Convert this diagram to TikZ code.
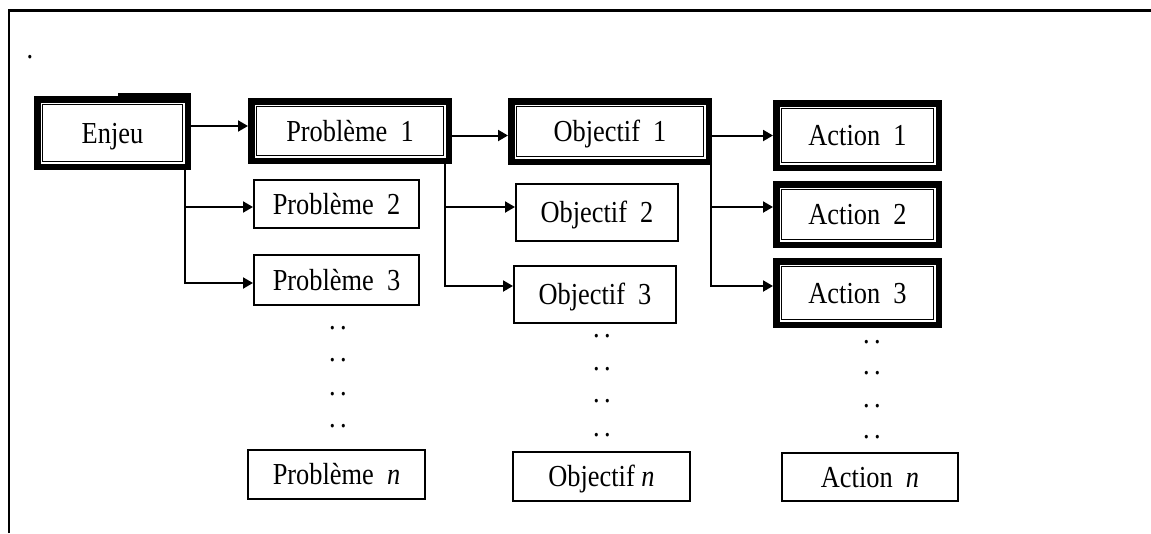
\documentclass[tikz,border=0pt]{standalone}
\usepackage{fontspec}
\setmainfont{Liberation Serif}[FakeStretch=0.865]
\usetikzlibrary{arrows.meta}
\tikzset{
  lbl/.style={font=\fontsize{30.5pt}{36pt}\selectfont, inner sep=0pt, text height=20pt, text depth=0pt},
  thickbox/.style={lbl, draw, line width=6.5pt, outer sep=3.25pt},
  thinbox/.style={lbl, draw, line width=1.6pt, outer sep=0.8pt},
  arr/.style={line width=2pt, -{Triangle[length=10pt,width=11pt]}},
  dotrow/.style={font=\fontsize{30.5pt}{36pt}\selectfont, inner sep=0pt, anchor=base}
}
\begin{document}
\begin{tikzpicture}[x=1pt,y=-1pt]
\useasboundingbox (0,0) rectangle (1151,533);
\fill[white] (0,0) rectangle (1151,533);
% frame
\draw[line width=2.5pt] (9,533) -- (9,10.7) -- (1151,10.7);
\node[dotrow] (dot0) at (30,58.5) {.};

% thick boxes (outer size minus line width)
\node[thickbox, minimum width=150.5pt, minimum height=67.5pt] (enjeu) at (112.5,133) {Enjeu};
\fill (118,93) rectangle (191,97);
\node[thickbox, minimum width=197.5pt, minimum height=59.5pt] (p1) at (350,131) {Problème~~1};
\node[thickbox, minimum width=197.5pt, minimum height=60.5pt] (o1) at (610,131.5) {Objectif~~1};
\node[thickbox, minimum width=162.5pt, minimum height=64.5pt] (a1) at (857.5,135.5) {Action~~1};
\node[thickbox, minimum width=162.5pt, minimum height=60.5pt] (a2) at (857.5,214.5) {Action~~2};
\node[thickbox, minimum width=162.5pt, minimum height=63.5pt] (a3) at (857.5,293) {Action~~3};
\foreach \n in {enjeu,p1,o1,a1,a2,a3}
  \draw[line width=1.5pt] ([shift={(8.5pt,8.5pt)}]\n.south west) rectangle ([shift={(-8.5pt,-8.5pt)}]\n.north east);

% thin boxes
\node[thinbox, minimum width=165.4pt, minimum height=48.4pt] (p2) at (336.5,204) {Problème~~2};
\node[thinbox, minimum width=165.4pt, minimum height=50.4pt] (p3) at (336.5,280) {Problème~~3};
\node[thinbox, minimum width=177.4pt, minimum height=49.4pt] (pn) at (336.5,474.5) {Problème~~\textit{n}};
\node[thinbox, minimum width=162.4pt, minimum height=57.4pt] (o2) at (597,212.5) {Objectif~~2};
\node[thinbox, minimum width=162.4pt, minimum height=57.4pt] (o3) at (595,294.5) {Objectif~~3};
\node[thinbox, minimum width=177.4pt, minimum height=49.4pt] (on) at (601.5,476.5) {Objectif \textit{n}};
\node[thinbox, minimum width=176.4pt, minimum height=48.4pt] (an) at (870,477) {Action~~\textit{n}};

% dots
\foreach \y [count=\i] in {328,360,394,426}
  \node[dotrow] (pd\i) at (338,\y+1.5) {.\hspace{4.5pt}.};
\foreach \y [count=\i] in {336,369,401,435}
  \node[dotrow] (od\i) at (602,\y+1.5) {.\hspace{4.5pt}.};
\foreach \y [count=\i] in {342,373,406,437}
  \node[dotrow] (ad\i) at (872,\y+1.5) {.\hspace{4.5pt}.};

% helper coordinates
\coordinate (ex) at (185,0);
\coordinate (px) at (445,0);
\coordinate (ox) at (711,0);
\coordinate (r1) at (0,126);
\coordinate (r2) at (0,135.5);
\coordinate (r3) at (0,207);
\coordinate (r4) at (0,283);
\coordinate (r5) at (0,286);

% connectors
\draw[arr] (enjeu.east |- r1) -- (p1.west |- r1);
\draw[arr] (p1.east |- r2) -- (o1.west |- r2);
\draw[arr] (o1.east |- r2) -- (a1.west |- r2);
\draw[arr] (enjeu.south -| ex) |- (p3.west |- r4);
\draw[arr] (ex |- r3) -- (p2.west |- r3);
\draw[arr] (p1.south -| px) |- (o3.west |- r5);
\draw[arr] (px |- r3) -- (o2.west |- r3);
\draw[arr] (o1.south -| ox) |- (a3.west |- r5);
\draw[arr] (ox |- r3) -- (a2.west |- r3);
\end{tikzpicture}
\end{document}
